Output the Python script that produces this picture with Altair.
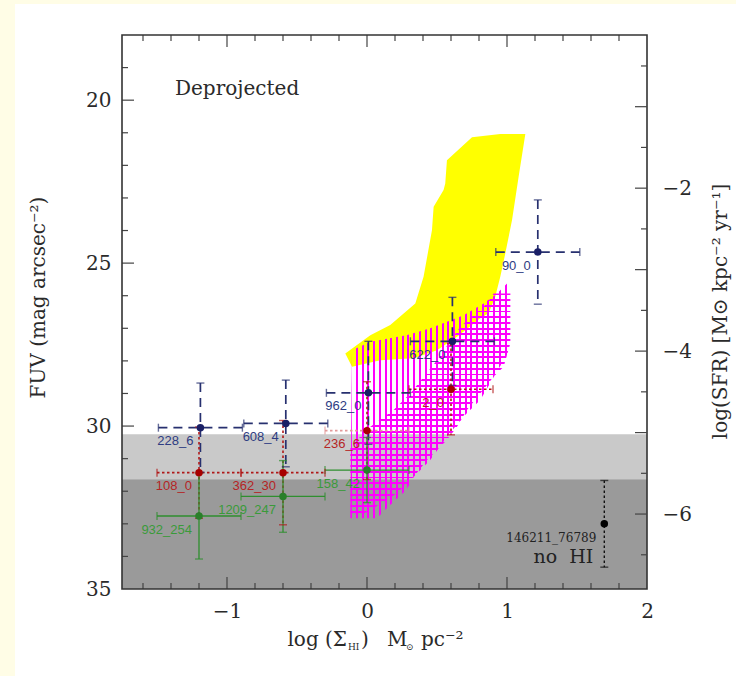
import altair as alt
import pandas as pd

W, H = 525, 554

# ---- HI column density vs FUV surface brightness, deprojected ----
names = ["228_6", "608_4", "962_0", "622_0", "90_0",
         "108_0", "362_30", "236_6", "2_0",
         "932_254", "1209_247", "158_42",
         "146211_76789"]
groups = ["blue"] * 5 + ["red"] * 4 + ["green"] * 3 + ["black"]
log_sigma_hi = [-1.19, -0.58, 0.01, 0.61, 1.22,
                -1.2, -0.6, 0.0, 0.6,
                -1.2, -0.6, 0.0,
                1.695]
fuv_mag = [30.05, 29.92, 28.98, 27.40, 24.66,
           31.43, 31.43, 30.14, 28.87,
           32.76, 32.16, 31.35,
           33.0]
log_sigma_hi_err = [0.3] * 12 + [0.0]
fuv_mag_err = [1.37, 1.33, 1.58, 1.35, 1.6,
               1.4, 1.6, 1.5, 1.4,
               1.32, 1.1, 1.0,
               1.33]

# shaded FUV detection bands
band_lo = [30.25, 31.63]
band_hi = [31.63, 35.0]
band_color = ["#c9c9c9", "#9a9a9a"]

# yellow locus
yellow_x = [0.750, 0.952, 1.131, 1.083, 1.036, 0.988, 0.952, 0.916, 0.869, 0.809,
            0.643, 0.500, 0.333, 0.095, -0.107, -0.155, 0.024, 0.166, 0.345, 0.404,
            0.464, 0.476, 0.547, 0.559, 0.571]
yellow_y = [21.14, 21.04, 21.04, 22.35, 23.68, 24.70, 25.42, 26.03, 26.54, 26.69,
            27.26, 27.67, 27.92, 27.98, 28.18, 27.77, 27.21, 26.90, 26.24, 25.42,
            23.99, 23.27, 22.76, 22.56, 21.84]

# magenta hatched loci (vertical and horizontal hatching)
vhatch_x = [-0.107, 0.024, 0.281, 0.452, 0.690, 0.833, 0.929, 1.024, 1.024, 0.976,
            0.809, 0.690, 0.571, 0.452, 0.333, 0.281, 0.154, 0.071, -0.119]
vhatch_y = [27.67, 27.41, 27.21, 27.00, 26.60, 26.24, 25.93, 25.52, 27.67, 27.98,
            29.20, 29.71, 30.33, 31.04, 31.56, 31.96, 32.47, 32.83, 32.83]
hhatch_x = [0.904, 1.024, 1.024, 0.976, 0.904, 0.809, 0.714, 0.643, 0.571, 0.429,
            0.333, 0.214, 0.024, -0.071, -0.119, -0.119, 0.024, 0.190, 0.309, 0.500,
            0.666, 0.857]
hhatch_y = [25.93, 25.93, 27.46, 28.18, 28.49, 29.00, 29.51, 30.02, 30.43, 31.04,
            31.56, 32.06, 32.58, 32.78, 32.78, 30.63, 30.02, 29.51, 29.00, 27.98,
            26.95, 26.24]

# axis ticks
x_major_ticks = [-1, 0, 1]
x_minor_ticks = [-1.6, -1.4, -1.2, -0.8, -0.6, -0.4, -0.2, 0.2, 0.4, 0.6, 0.8,
                 1.2, 1.4, 1.6, 1.8]
x_labels = [-1, 0, 1, 2]
fuv_major_ticks = [20, 25, 30]
fuv_minor_ticks = [19, 21, 22, 23, 24, 26, 27, 28, 29, 31, 32, 33, 34]
fuv_labels = [20, 25, 30, 35]
sfr_major_ticks = [-1, -2, -3, -4, -5, -6]
sfr_minor_ticks = [-0.5, -1.5, -2.5, -3.5, -4.5, -5.5, -6.5]
sfr_labels = [-2, -4, -6]

# ---- styling ----
SERIF = "DejaVu Serif"
SANS = "Liberation Sans"
INK = "#2a2a2a"
MAGENTA = "#ff00ff"
CLEAR = "rgba(255,0,255,0)"
line_color = {"blue": "#27306f", "red": "#b01818", "green": "#2f8f2f", "black": "#111111"}
point_color = {"blue": "#1a1f66", "red": "#a80000", "green": "#2a7f2a", "black": "#000000"}
label_color = {"blue": "#2e3c82", "red": "#b52525", "green": "#3a9a3a", "black": "#222222"}
dash_style = {"blue": "dash", "red": "dot", "green": "solid", "black": "dot"}

df = pd.DataFrame({"name": names, "grp": groups, "x": log_sigma_hi, "y": fuv_mag,
                   "xerr": log_sigma_hi_err, "yerr": fuv_mag_err})
df["x_lo"] = df.x - df.xerr
df["x_hi"] = df.x + df.xerr
df["y_lo"] = df.y - df.yerr
df["y_hi"] = df.y + df.yerr
df["bar_color"] = df.grp.map(line_color)
df["xbar_color"] = df.bar_color
df.loc[df.name == "236_6", "xbar_color"] = "#e29a9a"
df["pt_color"] = df.grp.map(point_color)
df["lbl_color"] = df.grp.map(label_color)
df["dash"] = df.grp.map(dash_style)
df["width"] = df.grp.map({"blue": 1.7, "red": 1.6, "green": 1.3, "black": 1.4})

bands = pd.DataFrame({"lo": band_lo, "hi": band_hi, "c": band_color})


def poly(xs, ys):
    return pd.DataFrame({"x": xs, "y": ys, "i": list(range(len(xs)))})


X_SC = alt.Scale(domain=[-1.75, 2.0], nice=False, zero=False)
Y_SC = alt.Scale(domain=[18, 35], nice=False, zero=False, reverse=True)
SFR_SC = alt.Scale(domain=[-6.92, -0.12], nice=False, zero=False)

X_AX = alt.Axis(values=x_labels, ticks=False, domain=False, grid=False, title=None,
                labelPadding=12, labelFont=SERIF, labelFontSize=20, labelColor=INK,
                labelFlush=False)
Y_AX = alt.Axis(values=fuv_labels, ticks=False, domain=False, grid=False,
                title="FUV (mag arcsec⁻²)", titleFont=SERIF, titleFontSize=20,
                titleFontWeight="normal", titleColor=INK, titleAngle=270,
                titleX=-84, titleY=262, titleAlign="center", titleBaseline="middle",
                labelPadding=11, labelFont=SERIF, labelFontSize=20, labelColor=INK,
                labelFlush=False)
SFR_AX = alt.Axis(orient="right", values=sfr_labels, ticks=False, domain=False, grid=False,
                  title="log(SFR) [M⊙ kpc⁻² yr⁻¹]", titleFont=SERIF, titleFontSize=20,
                  titleFontWeight="normal", titleColor=INK, titleAngle=270,
                  titleX=73, titleY=276, titleAlign="center", titleBaseline="middle",
                  labelPadding=15, labelFont=SERIF, labelFontSize=20, labelColor=INK,
                  labelFlush=False)


def X(f):
    return alt.X(f, type="quantitative", scale=X_SC, axis=X_AX)


def Y(f):
    return alt.Y(f, type="quantitative", scale=Y_SC, axis=Y_AX)


def stripes(n, frac, along_x):
    stops = []
    for k in range(n):
        a, b, c = k / n, (k + frac) / n, (k + 1) / n
        stops += [alt.GradientStop(color=MAGENTA, offset=a),
                  alt.GradientStop(color=MAGENTA, offset=b),
                  alt.GradientStop(color=CLEAR, offset=b),
                  alt.GradientStop(color=CLEAR, offset=c)]
    if along_x:
        return alt.LinearGradient(gradient="linear", stops=stops, x1=0, y1=0, x2=1, y2=0)
    return alt.LinearGradient(gradient="linear", stops=stops, x1=0, y1=0, x2=0, y2=1)


one = alt.Data(values=[{}])

# page margins
strip_left = alt.Chart(one).mark_rect(color="#fffde6").encode(
    x=alt.value(-122), x2=alt.value(-107), y=alt.value(-35), y2=alt.value(641))
strip_top = alt.Chart(one).mark_rect(color="#fffde6").encode(
    x=alt.value(-122), x2=alt.value(614), y=alt.value(-35), y2=alt.value(-31))

band_layer = alt.Chart(bands).mark_rect().encode(
    x=alt.value(0), x2=alt.value(W), y=Y("lo"), y2="hi", color=alt.Color("c:N", scale=None))

yellow = alt.Chart(poly(yellow_x, yellow_y)).mark_line(
    fill="#ffff00", strokeOpacity=0, strokeWidth=0).encode(x=X("x"), y=Y("y"), order="i:Q")
vhatch = alt.Chart(poly(vhatch_x, vhatch_y)).mark_line(
    fill=stripes(28, 0.33, True), strokeOpacity=0, strokeWidth=0).encode(
    x=X("x"), y=Y("y"), order="i:Q")
hhatch = alt.Chart(poly(hhatch_x, hhatch_y)).mark_line(
    fill=stripes(39, 0.33, False), strokeOpacity=0, strokeWidth=0).encode(
    x=X("x"), y=Y("y"), order="i:Q")

TICK = dict(color="#444444", strokeWidth=1.2)


def vticks(vals, length, top):
    d = pd.DataFrame({"v": vals})
    if top:
        return alt.Chart(d).mark_rule(**TICK).encode(x=X("v"), y=alt.value(0), y2=alt.value(length))
    return alt.Chart(d).mark_rule(**TICK).encode(x=X("v"), y=alt.value(H), y2=alt.value(H - length))


def lticks(vals, length):
    d = pd.DataFrame({"v": vals})
    return alt.Chart(d).mark_rule(**TICK).encode(y=Y("v"), x=alt.value(0), x2=alt.value(length))


def rticks(vals, length):
    d = pd.DataFrame({"v": vals})
    return alt.Chart(d).mark_rule(**TICK).encode(
        y=alt.Y("v:Q", scale=SFR_SC, axis=SFR_AX), x=alt.value(W - length), x2=alt.value(W))


tick_layers = [vticks(x_major_ticks, 12, False), vticks(x_minor_ticks, 6, False),
               vticks(x_major_ticks, 12, True), vticks(x_minor_ticks, 6, True),
               lticks(fuv_major_ticks, 12), lticks(fuv_minor_ticks, 6)]

DASH = alt.StrokeDash("dash:N", scale=alt.Scale(domain=["dash", "dot", "solid"],
                                                 range=[[9, 6], [2.5, 2.5], [1, 0]]), legend=None)
base = alt.Chart(df)
xbars = base.transform_filter("datum.xerr > 0").mark_rule().encode(
    x=X("x_lo"), x2="x_hi", y=Y("y"),
    color=alt.Color("xbar_color:N", scale=None), strokeDash=DASH,
    strokeWidth=alt.StrokeWidth("width:Q", scale=None))
ybars = base.mark_rule().encode(
    x=X("x"), y=Y("y_lo"), y2="y_hi",
    color=alt.Color("bar_color:N", scale=None), strokeDash=DASH,
    strokeWidth=alt.StrokeWidth("width:Q", scale=None))

CAP = dict(size=8, thickness=1.4)
xcap_lo = base.transform_filter("datum.xerr > 0").mark_tick(orient="vertical", **CAP).encode(
    x=X("x_lo"), y=Y("y"), color=alt.Color("xbar_color:N", scale=None))
xcap_hi = base.transform_filter("datum.xerr > 0").mark_tick(orient="vertical", **CAP).encode(
    x=X("x_hi"), y=Y("y"), color=alt.Color("xbar_color:N", scale=None))
ycap_lo = base.mark_tick(orient="horizontal", **CAP).encode(
    x=X("x"), y=Y("y_lo"), color=alt.Color("bar_color:N", scale=None))
ycap_hi = base.mark_tick(orient="horizontal", **CAP).encode(
    x=X("x"), y=Y("y_hi"), color=alt.Color("bar_color:N", scale=None))

points = base.mark_circle(size=56, opacity=1).encode(
    x=X("x"), y=Y("y"), color=alt.Color("pt_color:N", scale=None))

labels = base.transform_filter("datum.grp != 'black'").mark_text(
    align="right", baseline="middle", dx=-7, dy=13.5, font=SANS, fontSize=13).encode(
    x=X("x"), y=Y("y"), text="name:N", color=alt.Color("lbl_color:N", scale=None))
black_label = base.transform_filter("datum.grp == 'black'").mark_text(
    align="right", baseline="middle", dx=-8, dy=14, font=SERIF, fontSize=12, color="#222222").encode(
    x=X("x"), y=Y("y"), text="name:N")
no_hi = base.transform_filter("datum.grp == 'black'").mark_text(
    align="right", baseline="middle", dx=-11, dy=33, font=SERIF, fontSize=19, color="#222222",
    text="no\u00a0 HI").encode(x=X("x"), y=Y("y"))

frame = alt.Chart(one).mark_rect(fillOpacity=0, stroke="#333333", strokeWidth=1.6).encode(
    x=alt.value(0), x2=alt.value(W), y=alt.value(0), y2=alt.value(H))


def note(txt, x, y, size=20, align="left"):
    return alt.Chart(one).mark_text(text=txt, font=SERIF, fontSize=size, color=INK,
                                    align=align, baseline="alphabetic").encode(
        x=alt.value(x), y=alt.value(y))


title_y = 611
texts = [note("Deprojected", 53, 60),
         note("log (Σ", 225, title_y, align="right"),
         note("HI", 226, title_y + 4, size=9),
         note(")", 239, title_y),
         note("M", 265, title_y),
         note("⊙", 284, title_y + 4, size=9),
         note("pc⁻²", 299, title_y)]

fuv_layers = alt.layer(strip_left, strip_top, band_layer, yellow, vhatch, hhatch,
                       *tick_layers, ybars, xbars, xcap_lo, xcap_hi, ycap_lo, ycap_hi,
                       points, labels, black_label, no_hi, frame, *texts)
sfr_layers = alt.layer(rticks(sfr_major_ticks, 12), rticks(sfr_minor_ticks, 6))

chart = alt.layer(fuv_layers, sfr_layers).resolve_scale(y="independent").properties(
    width=W, height=H,
    padding={"left": 122, "top": 35, "right": 89, "bottom": 87},
    autosize=alt.AutoSizeParams(type="none"),
    background="white",
).configure_view(strokeWidth=0)

chart.save("out.html", embed_options={"renderer": "svg", "actions": False})
